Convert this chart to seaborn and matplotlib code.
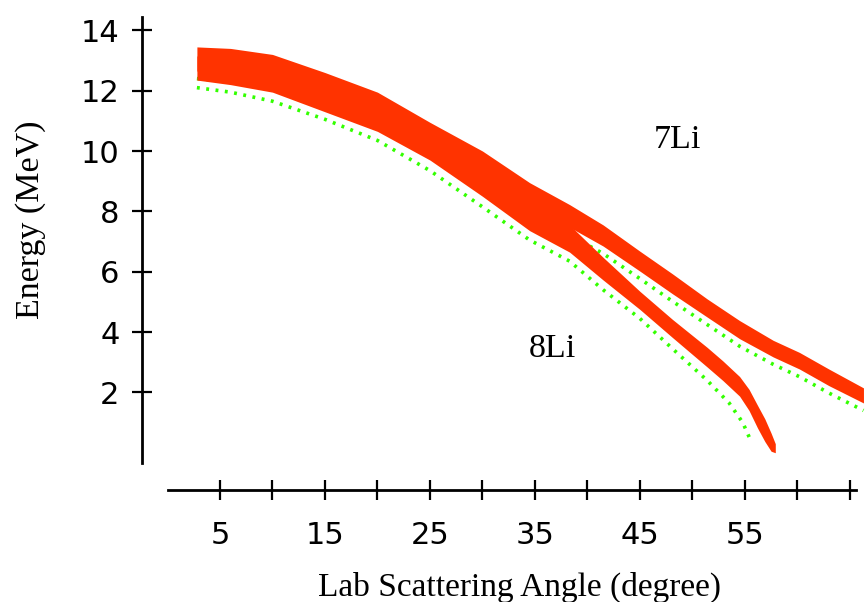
import numpy as np
import matplotlib
matplotlib.use("Agg")
import matplotlib.pyplot as plt
import seaborn as sns

# band centres / thickness (degree, MeV)
li7_angle = [2.8, 6, 10, 15, 20, 25, 30, 34.5, 38.3, 41.5, 45, 48.1, 51.4, 54.5, 57.7, 60.2, 63, 66.3]
li7_energy = [13.05, 13.0, 12.8, 12.2, 11.55, 10.55, 9.6, 8.55, 7.85, 7.2, 6.35, 5.6, 4.8, 4.08, 3.45, 3.05, 2.5, 1.9]
li7_width = [0.8, 0.8, 0.8, 0.8, 0.8, 0.8, 0.8, 0.8, 0.75, 0.7, 0.66, 0.66, 0.6, 0.6, 0.55, 0.55, 0.55, 0.5]
li7_green = [12.4, 12.3, 12.1, 11.5, 10.8, 9.9, 8.9, 7.9, 7.22, 6.6, 5.77, 5.02, 4.25, 3.53, 2.93, 2.52, 1.98, 1.4]

li8_angle = [2.8, 6, 10, 15, 20, 25, 30, 34.5, 38.3, 41.5, 45, 48.1, 51.4, 52.9, 54.5, 55.4, 56.2, 56.9, 57.5, 57.9]
li8_energy = [12.75, 12.6, 12.35, 11.7, 11.05, 10.1, 8.9, 7.81, 7.1, 6.1, 5.05, 4.12, 3.17, 2.72, 2.2, 1.75, 1.2, 0.75, 0.35, 0.15]
li8_width = [0.8, 0.8, 0.8, 0.8, 0.8, 0.8, 0.8, 0.9, 0.9, 0.75, 0.6, 0.6, 0.65, 0.65, 0.65, 0.7, 0.75, 0.75, 0.6, 0.3]
li8_green_angle = [2.8, 6, 10, 15, 20, 25, 30, 34.5, 38.3, 41.5, 45, 48.1, 51.4, 53.5, 54.8, 55.5]
li8_green = [12.1, 11.95, 11.65, 11.05, 10.35, 9.35, 8.15, 7.05, 6.35, 5.4, 4.45, 3.45, 2.4, 1.65, 1.0, 0.45]

x_ticks = [5, 10, 15, 20, 25, 30, 35, 40, 45, 50, 55, 60, 65]
y_ticks = [2, 4, 6, 8, 10, 12, 14]

red = "#ff3300"
green = "#33ff00"

sns.set_style("ticks")
plt.rcParams["text.color"] = "black"
plt.rcParams["axes.labelcolor"] = "black"

fig = plt.figure(figsize=(8.65, 6.02), dpi=100)
ax = fig.add_axes([0.1638, 0.186, 0.836, 0.7857])

# green points sit just under each red band
for ang, en in [(li7_angle, li7_green), (li8_green_angle, li8_green)]:
    sns.lineplot(x=ang, y=en, ax=ax, color=green, linewidth=2.6,
                 linestyle=(0, (0.8, 1.8)), sort=False, estimator=None, zorder=1)

for ang, en, w in [(li7_angle, li7_energy, li7_width), (li8_angle, li8_energy, li8_width)]:
    en = np.array(en)
    w = np.array(w)
    ax.fill_between(ang, en - w / 2, en + w / 2, color=red, linewidth=0, zorder=2)

ax.text(48.6, 10.1, "7Li", fontsize=24.5, family="Liberation Serif", ha="center", va="baseline", color="black")
ax.text(36.7, 3.18, "8Li", fontsize=24.5, family="Liberation Serif", ha="center", va="baseline", color="black")

ax.set_xlim(-2.46, 66.43)
ax.set_ylim(-1.236, 14.44)
ax.set_xticks(x_ticks)
ax.set_xticklabels([str(v) if v % 10 == 5 and v <= 55 else "" for v in x_ticks])
ax.set_yticks(y_ticks)
ax.set_yticklabels([str(v) for v in y_ticks])

for s in ["top", "right"]:
    ax.spines[s].set_visible(False)
ax.spines["left"].set_bounds(-0.33, 14.44)
ax.spines["bottom"].set_bounds(0, 65.6)
for s in ["left", "bottom"]:
    ax.spines[s].set_linewidth(2.0)
    ax.spines[s].set_color("black")

ax.tick_params(direction="inout", length=14, width=1.6, colors="black", labelsize=22)
ax.tick_params(axis="y", pad=9)
ax.tick_params(axis="x", pad=15)
for lab in ax.get_xticklabels() + ax.get_yticklabels():
    lab.set_family("DejaVu Sans")

ax.set_xlabel("Lab Scattering Angle (degree)", fontsize=24, family="Liberation Serif", va="center", color="black")
ax.xaxis.set_label_coords(0.523, -0.206)
ax.set_ylabel("Energy (MeV)", fontsize=24.5, family="Liberation Serif", va="center", color="black")
ax.yaxis.set_label_coords(-0.153, 0.571)

fig.savefig("out.png", dpi=100)
